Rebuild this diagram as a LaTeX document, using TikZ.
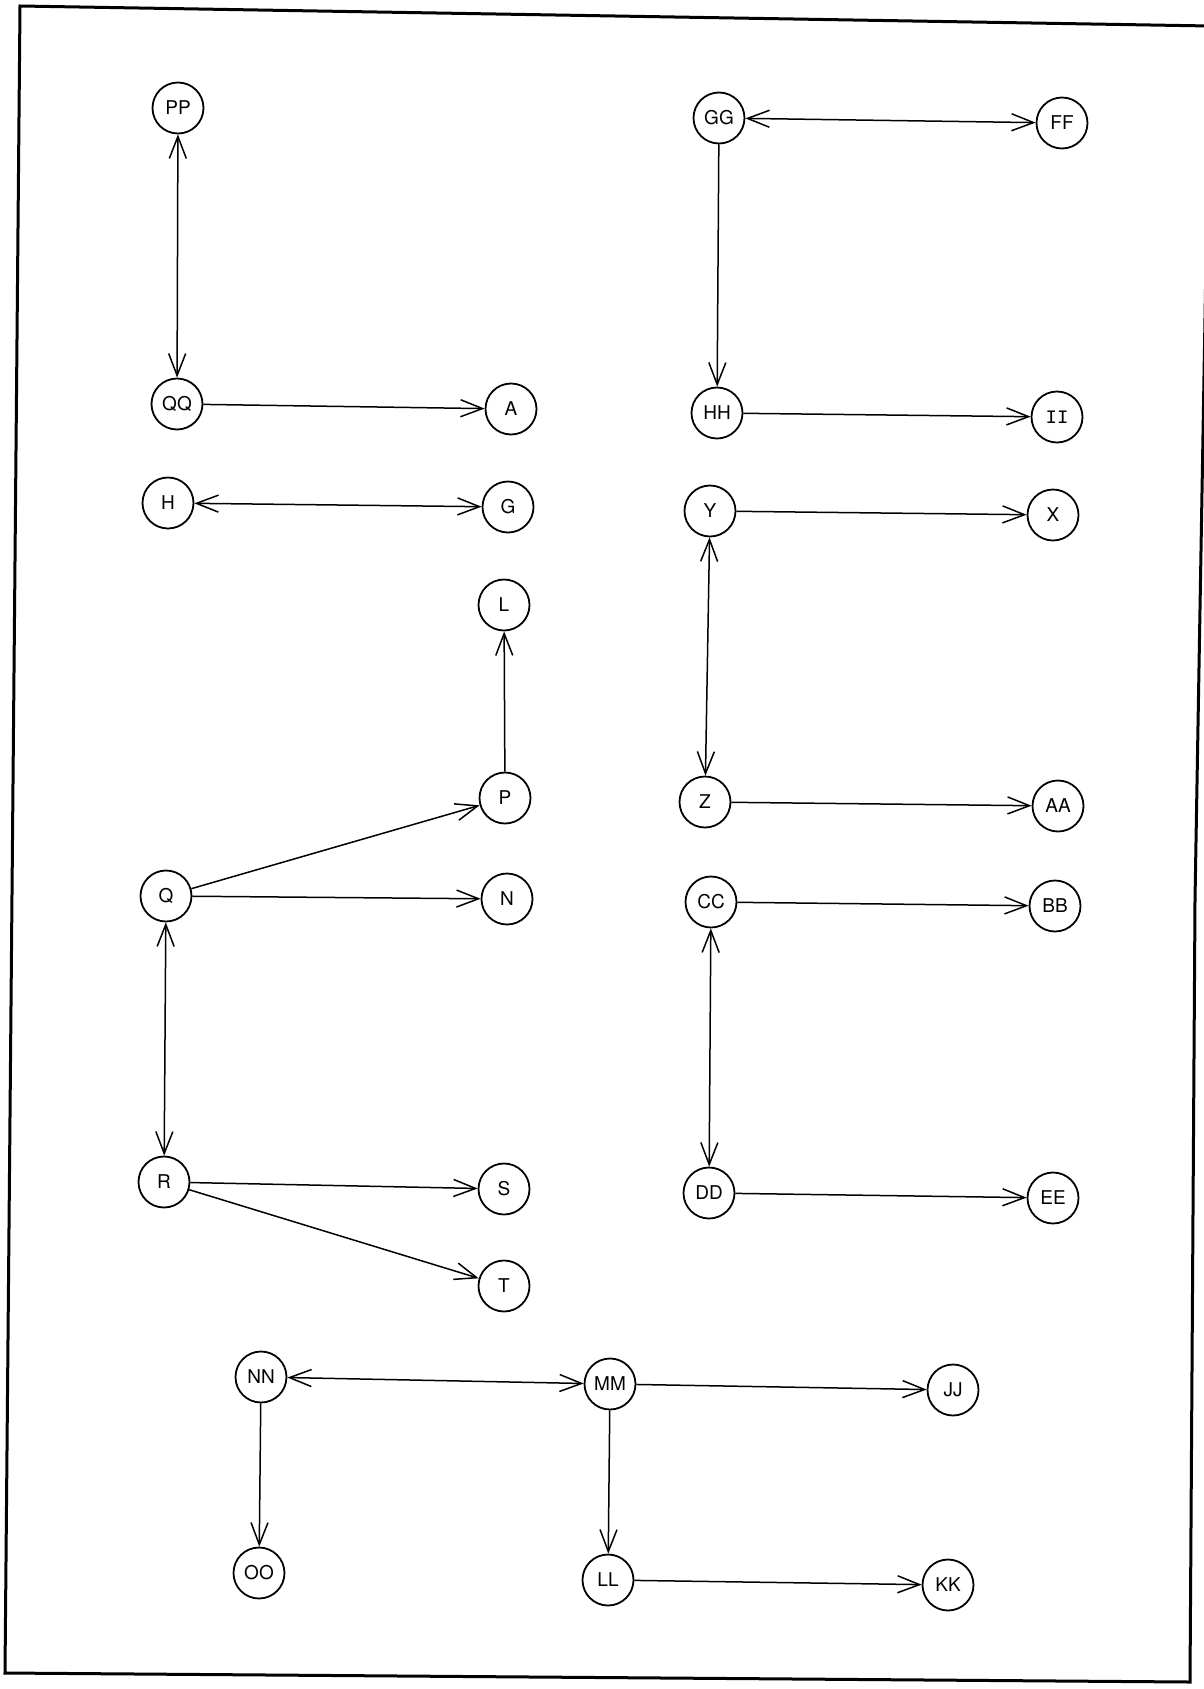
\documentclass[tikz,border=0pt]{standalone}
\usepackage{fontspec}
\setmainfont{TeX Gyre Heros}
\newfontfamily\monofont{Liberation Mono}
\usetikzlibrary{arrows.meta}
\tikzset{
  st/.style={circle,draw,line width=1.8pt,minimum size=51pt,inner sep=0pt,font=\fontsize{19}{22}\selectfont},
  ed/.style={line width=1.5pt,-{Straight Barb[length=22pt,width=17pt,line width=1.5pt]}},
  bi/.style={line width=1.5pt,{Straight Barb[length=22pt,width=17pt,line width=1.5pt]}-{Straight Barb[length=22pt,width=17pt,line width=1.5pt]}},
  frame/.style={line width=3pt}
}
\begin{document}
\begin{tikzpicture}[x=1pt,y=-1pt]
\useasboundingbox (0,0) rectangle (1204,1689);
\fill[white] (0,0) rectangle (1204,1689);
\draw[frame] (20,6) -- (1210,26) -- (1195,900) -- (1190,1682) -- (5,1673) -- cycle;
% left column
\node[st] (PP) at (178,108) {PP};
\node[st] (QQ) at (177,404) {QQ};
\node[st] (A) at (511,409) {A};
\node[st] (H) at (168,503) {H};
\node[st] (G) at (508,507) {G};
\node[st] (L) at (504,605) {L};
\node[st] (P) at (505,798) {P};
\node[st] (Q) at (166,896) {Q};
\node[st] (N) at (507,899) {N};
\node[st] (R) at (164,1182) {R};
\node[st] (S) at (504,1189) {S};
\node[st] (T) at (504,1286) {T};
% right column
\node[st] (GG) at (719,118) {GG};
\node[st] (FF) at (1062,123) {FF};
\node[st] (HH) at (717,413) {HH};
\node[st] (II) at (1057,417) {\monofont II};
\node[st] (Y) at (710,511) {Y};
\node[st] (X) at (1053,515) {X};
\node[st] (Z) at (705,802) {Z};
\node[st] (AA) at (1058,806) {AA};
\node[st] (CC) at (711,902) {CC};
\node[st] (BB) at (1055,906) {BB};
\node[st] (DD) at (709,1193) {DD};
\node[st] (EE) at (1053,1198) {EE};
% bottom
\node[st] (NN) at (261,1377) {NN};
\node[st] (MM) at (610,1384) {MM};
\node[st] (JJ) at (953,1390) {JJ};
\node[st] (OO) at (259,1573) {OO};
\node[st] (LL) at (608,1580) {LL};
\node[st] (KK) at (948,1585) {KK};
% edges
\draw[bi] (PP) -- (QQ);
\draw[ed] (QQ) -- (A);
\draw[bi] (H) -- (G);
\draw[ed] (P) -- (L);
\draw[ed] (Q) -- (P);
\draw[ed] (Q) -- (N);
\draw[bi] (Q) -- (R);
\draw[ed] (R) -- (S);
\draw[ed] (R) -- (T);
\draw[bi] (GG) -- (FF);
\draw[ed] (GG) -- (HH);
\draw[ed] (HH) -- (II);
\draw[ed] (Y) -- (X);
\draw[bi] (Y) -- (Z);
\draw[ed] (Z) -- (AA);
\draw[ed] (CC) -- (BB);
\draw[bi] (CC) -- (DD);
\draw[ed] (DD) -- (EE);
\draw[bi] (NN) -- (MM);
\draw[ed] (MM) -- (JJ);
\draw[ed] (NN) -- (OO);
\draw[ed] (MM) -- (LL);
\draw[ed] (LL) -- (KK);
\end{tikzpicture}
\end{document}
